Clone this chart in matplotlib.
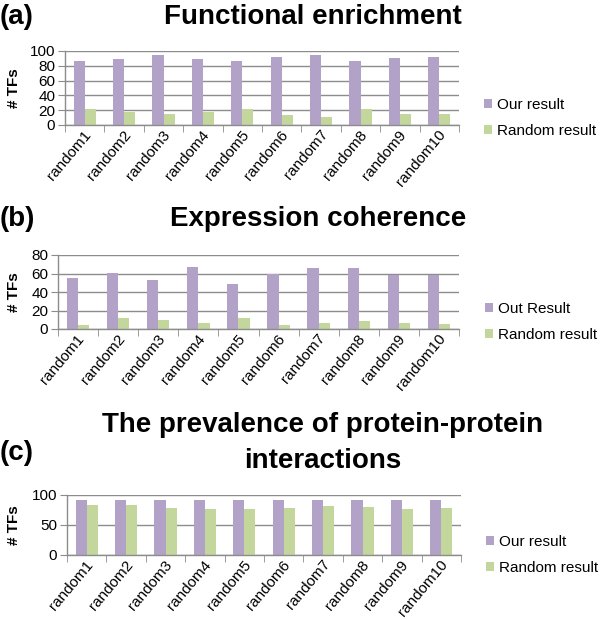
import matplotlib
matplotlib.use("Agg")
import matplotlib.pyplot as plt
import matplotlib.transforms as mtransforms
import numpy as np

plt.rcParams["font.family"] = ["Liberation Sans", "DejaVu Sans"]

# data
categories = ["random1", "random2", "random3", "random4", "random5",
              "random6", "random7", "random8", "random9", "random10"]

func_ours = [86, 89, 94, 89, 87, 92, 95, 87, 91, 92]
func_random = [21, 18, 15, 17, 21, 14, 11, 21, 15, 15]

expr_ours = [55, 61, 53, 67, 49, 60, 66, 66, 58, 58]
expr_random = [4, 12, 10, 7, 12, 4, 7, 9, 7, 5]

ppi_ours = [92, 92, 92, 92, 92, 92, 92, 92, 92, 92]
ppi_random = [83, 83, 78, 77, 76, 79, 81, 80, 77, 78]

PURPLE = "#b3a2c7"
GREEN = "#c3d69b"
GRID = "#8c8c8c"

W, H = 600, 620
fig = plt.figure(figsize=(W / 100, H / 100), dpi=100)


def px(x0, y0, x1, y1):
    # pixel box (top-left origin) -> figure fraction rect
    return [x0 / W, 1 - y1 / H, (x1 - x0) / W, (y1 - y0) / H]


def bar_panel(box, ours, rand, yticks, names, legend_x, legend_y):
    ax = fig.add_axes(px(*box))
    x = np.arange(len(categories))
    w = 0.28
    ax.bar(x - w / 2, ours, w, color=PURPLE, label=names[0], zorder=2)
    ax.bar(x + w / 2, rand, w, color=GREEN, label=names[1], zorder=2)

    ax.set_xlim(-0.5, len(categories) - 0.5)
    ax.set_ylim(0, yticks[-1])
    ax.set_yticks(yticks)
    ax.yaxis.grid(True, color=GRID, lw=1)
    ax.set_axisbelow(True)
    for s in ["top", "right"]:
        ax.spines[s].set_visible(False)
    for s in ["left", "bottom"]:
        ax.spines[s].set_color(GRID)
        ax.spines[s].set_linewidth(1)

    ax.set_xticks(x)
    ax.set_xticklabels(categories, rotation=50, ha="right", va="center",
                       rotation_mode="anchor")
    ax.set_xticks(np.arange(len(categories) + 1) - 0.5, minor=True)
    ax.tick_params(axis="x", which="major", length=0, pad=5, labelsize=11)
    ax.tick_params(axis="x", which="minor", length=5, color=GRID)
    ax.tick_params(axis="y", length=5, color=GRID, pad=2, labelsize=11)
    # nudge the slanted labels a little to the right, like the original
    shift = mtransforms.ScaledTranslation(0.04, 0, fig.dpi_scale_trans)
    for lab in ax.get_xticklabels():
        lab.set_transform(lab.get_transform() + shift)

    fig.legend(*ax.get_legend_handles_labels(), loc="center left",
               bbox_to_anchor=(legend_x / W, 1 - legend_y / H),
               frameon=False, fontsize=11, borderpad=0, borderaxespad=0,
               handlelength=0.55, handleheight=0.55, handletextpad=0.3,
               labelspacing=0.75)

    mid = (box[1] + box[3]) / 2
    fig.text(14 / W, 1 - mid / H, "# TFs", rotation=90, ha="center",
             va="center", fontsize=11, fontweight="bold")
    return ax


bar_panel((65, 51, 459, 125), func_ours, func_random, [0, 20, 40, 60, 80, 100],
          ["Our result", "Random result"], 484, 118)
bar_panel((58, 255, 459, 329), expr_ours, expr_random, [0, 20, 40, 60, 80],
          ["Out Result", "Random result"], 485, 322)
bar_panel((67, 495, 461, 555), ppi_ours, ppi_random, [0, 50, 100],
          ["Our result", "Random result"], 486, 555)

title_kw = dict(fontsize=20, fontweight="bold", va="center")
fig.text(0, 1 - 17 / H, "(a)", ha="left", **title_kw)
fig.text(313 / W, 1 - 17 / H, "Functional enrichment", ha="center", **title_kw)
fig.text(0, 1 - 219 / H, "(b)", ha="left", **title_kw)
fig.text(318 / W, 1 - 219 / H, "Expression coherence", ha="center", **title_kw)
fig.text(0, 1 - 453 / H, "(c)", ha="left", **title_kw)
fig.text(323 / W, 1 - 443 / H, "The prevalence of protein-protein\ninteractions",
         ha="center", multialignment="center", linespacing=1.45, **title_kw)

fig.savefig("out.png", dpi=100)
